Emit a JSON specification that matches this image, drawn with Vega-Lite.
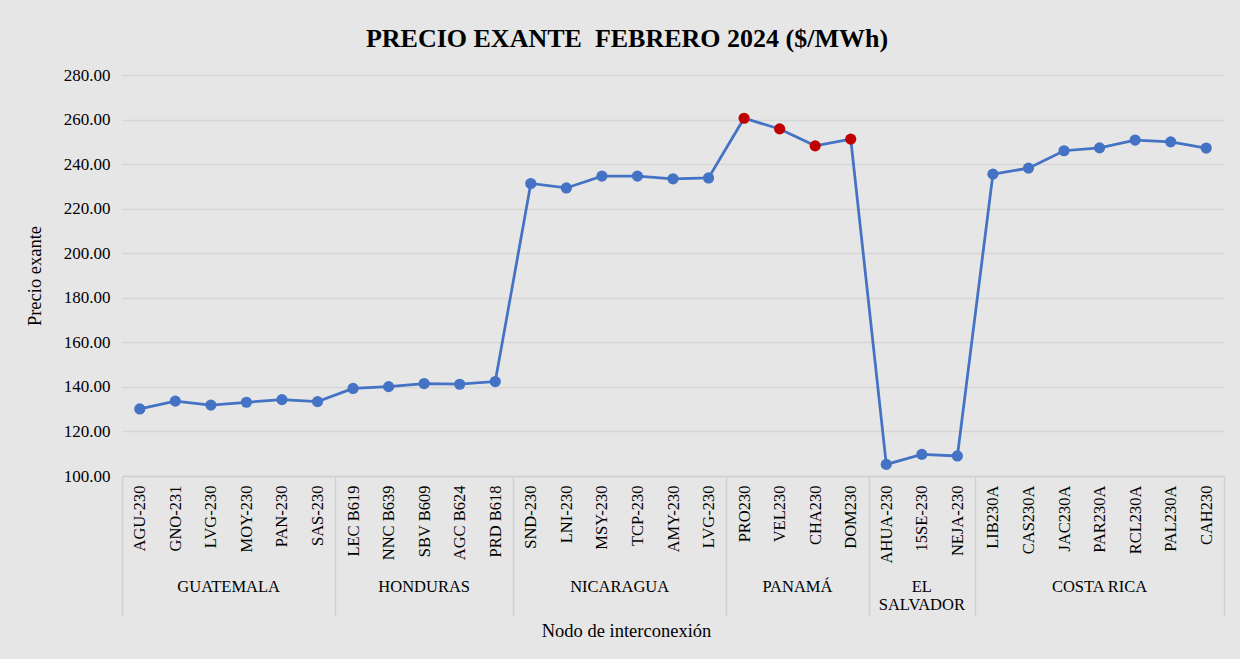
{
  "$schema": "https://vega.github.io/schema/vega-lite/v6.json",
  "width": 1102,
  "height": 401,
  "autosize": {"type": "none"},
  "padding": {"left": 122, "top": 75, "right": 16, "bottom": 183},
  "background": "#e6e6e6",
  "config": {
    "view": {"stroke": null},
    "font": "Liberation Serif",
    "axisY": {
      "labelFont": "Liberation Serif",
      "labelFontSize": 17,
      "labelColor": "#000000",
      "labelPadding": 12,
      "ticks": false,
      "domain": false,
      "gridColor": "#d6d6d6",
      "gridWidth": 1.5,
      "titleFont": "Liberation Serif",
      "titleFontSize": 18.5,
      "titleFontWeight": "normal",
      "titleColor": "#000000",
      "titlePadding": 19
    }
  },
  "title": {
    "text": "PRECIO EXANTE\u00a0 FEBRERO 2024 ($/MWh)",
    "font": "Liberation Serif",
    "fontSize": 26,
    "fontWeight": "bold",
    "color": "#000000",
    "anchor": "middle",
    "dx": -46,
    "offset": 14
  },
  "datasets": {
    "nodos": [
      {"orden": 1, "pais": "GUATEMALA", "nodo": "AGU-230", "id": "01|AGU-230", "precio": 130.1},
      {"orden": 2, "pais": "GUATEMALA", "nodo": "GNO-231", "id": "02|GNO-231", "precio": 133.6},
      {"orden": 3, "pais": "GUATEMALA", "nodo": "LVG-230", "id": "03|LVG-230", "precio": 131.8},
      {"orden": 4, "pais": "GUATEMALA", "nodo": "MOY-230", "id": "04|MOY-230", "precio": 133.1},
      {"orden": 5, "pais": "GUATEMALA", "nodo": "PAN-230", "id": "05|PAN-230", "precio": 134.3},
      {"orden": 6, "pais": "GUATEMALA", "nodo": "SAS-230", "id": "06|SAS-230", "precio": 133.4},
      {"orden": 7, "pais": "HONDURAS", "nodo": "LEC B619", "id": "07|LEC B619", "precio": 139.3},
      {"orden": 8, "pais": "HONDURAS", "nodo": "NNC B639", "id": "08|NNC B639", "precio": 140.1},
      {"orden": 9, "pais": "HONDURAS", "nodo": "SBV B609", "id": "09|SBV B609", "precio": 141.5},
      {"orden": 10, "pais": "HONDURAS", "nodo": "AGC B624", "id": "10|AGC B624", "precio": 141.2},
      {"orden": 11, "pais": "HONDURAS", "nodo": "PRD B618", "id": "11|PRD B618", "precio": 142.4},
      {"orden": 12, "pais": "NICARAGUA", "nodo": "SND-230", "id": "12|SND-230", "precio": 231.3},
      {"orden": 13, "pais": "NICARAGUA", "nodo": "LNI-230", "id": "13|LNI-230", "precio": 229.3},
      {"orden": 14, "pais": "NICARAGUA", "nodo": "MSY-230", "id": "14|MSY-230", "precio": 234.6},
      {"orden": 15, "pais": "NICARAGUA", "nodo": "TCP-230", "id": "15|TCP-230", "precio": 234.6},
      {"orden": 16, "pais": "NICARAGUA", "nodo": "AMY-230", "id": "16|AMY-230", "precio": 233.4},
      {"orden": 17, "pais": "NICARAGUA", "nodo": "LVG-230", "id": "17|LVG-230", "precio": 233.8},
      {"orden": 18, "pais": "PANAMÁ", "nodo": "PRO230", "id": "18|PRO230", "precio": 260.6},
      {"orden": 19, "pais": "PANAMÁ", "nodo": "VEL230", "id": "19|VEL230", "precio": 255.8},
      {"orden": 20, "pais": "PANAMÁ", "nodo": "CHA230", "id": "20|CHA230", "precio": 248.2},
      {"orden": 21, "pais": "PANAMÁ", "nodo": "DOM230", "id": "21|DOM230", "precio": 251.2},
      {"orden": 22, "pais": "EL SALVADOR", "nodo": "AHUA-230", "id": "22|AHUA-230", "precio": 105.2},
      {"orden": 23, "pais": "EL SALVADOR", "nodo": "15SE-230", "id": "23|15SE-230", "precio": 109.7},
      {"orden": 24, "pais": "EL SALVADOR", "nodo": "NEJA-230", "id": "24|NEJA-230", "precio": 109.0},
      {"orden": 25, "pais": "COSTA RICA", "nodo": "LIB230A", "id": "25|LIB230A", "precio": 235.5},
      {"orden": 26, "pais": "COSTA RICA", "nodo": "CAS230A", "id": "26|CAS230A", "precio": 238.2},
      {"orden": 27, "pais": "COSTA RICA", "nodo": "JAC230A", "id": "27|JAC230A", "precio": 246.0},
      {"orden": 28, "pais": "COSTA RICA", "nodo": "PAR230A", "id": "28|PAR230A", "precio": 247.3},
      {"orden": 29, "pais": "COSTA RICA", "nodo": "RCL230A", "id": "29|RCL230A", "precio": 250.8},
      {"orden": 30, "pais": "COSTA RICA", "nodo": "PAL230A", "id": "30|PAL230A", "precio": 250.0},
      {"orden": 31, "pais": "COSTA RICA", "nodo": "CAH230", "id": "31|CAH230", "precio": 247.2}
    ],
    "paises": [
      {"pais": "GUATEMALA", "centro": 3, "etiqueta": "GUATEMALA"},
      {"pais": "HONDURAS", "centro": 8.5, "etiqueta": "HONDURAS"},
      {"pais": "NICARAGUA", "centro": 14, "etiqueta": "NICARAGUA"},
      {"pais": "PANAMÁ", "centro": 19, "etiqueta": "PANAMÁ"},
      {"pais": "EL SALVADOR", "centro": 22.5, "etiqueta": "EL\nSALVADOR"},
      {"pais": "COSTA RICA", "centro": 27.5, "etiqueta": "COSTA RICA"}
    ]
  },
  "layer": [
    {
      "data": {"name": "nodos"},
      "encoding": {
        "x": {
          "field": "id",
          "type": "nominal",
          "sort": null,
          "scale": {"type": "point", "padding": 0.5},
          "axis": {
            "orient": "bottom",
            "title": "Nodo de interconexión",
            "labelExpr": "split(datum.label, '|')[1]",
            "labelAngle": -90,
            "labelFont": "Liberation Serif",
            "labelFontSize": 16.5,
            "labelColor": "#000000",
            "labelPadding": 9,
            "ticks": false,
            "grid": false,
            "domainColor": "#d0d0d0",
            "domainWidth": 1.5,
            "titleFont": "Liberation Serif",
            "titleFontSize": 18.5,
            "titleFontWeight": "normal",
            "titleColor": "#000000",
            "titleX": 504,
            "titleY": 154,
            "titleBaseline": "middle"
          }
        },
        "y": {
          "field": "precio",
          "type": "quantitative",
          "scale": {"domain": [100, 280], "nice": false, "zero": false},
          "axis": {
            "title": "Precio exante",
            "values": [100, 120, 140, 160, 180, 200, 220, 240, 260, 280],
            "format": ".2f"
          }
        }
      },
      "layer": [
        {
          "mark": {"type": "line", "color": "#4472C4", "strokeWidth": 2.75},
          "encoding": {"order": {"field": "orden", "type": "quantitative"}}
        },
        {
          "mark": {"type": "point", "filled": true, "size": 125, "opacity": 1},
          "encoding": {
            "color": {
              "condition": {"test": "datum.pais === 'PANAMÁ'", "value": "#C00000"},
              "value": "#4472C4"
            }
          }
        }
      ]
    },
    {
      "data": {"name": "paises"},
      "mark": {
        "type": "text",
        "baseline": "top",
        "align": "center",
        "dy": 103,
        "font": "Liberation Serif",
        "fontSize": 16.5,
        "lineBreak": "\n",
        "lineHeight": 18,
        "color": "#000000"
      },
      "encoding": {
        "x": {
          "field": "centro",
          "type": "quantitative",
          "scale": {"domain": [0, 31], "nice": false, "zero": false},
          "axis": {
            "orient": "bottom",
            "values": [0, 6, 11, 17, 21, 24, 31],
            "labels": false,
            "ticks": true,
            "tickSize": 139,
            "tickColor": "#d0d0d0",
            "tickWidth": 1.5,
            "domain": false,
            "grid": false,
            "title": null
          }
        },
        "y": {
          "datum": 100,
          "type": "quantitative",
          "scale": {"domain": [100, 280], "nice": false, "zero": false},
          "axis": {
            "title": "Precio exante",
            "values": [100, 120, 140, 160, 180, 200, 220, 240, 260, 280],
            "format": ".2f"
          }
        },
        "text": {"field": "etiqueta", "type": "nominal"}
      }
    }
  ],
  "resolve": {"scale": {"x": "independent"}, "axis": {"x": "independent"}}
}
